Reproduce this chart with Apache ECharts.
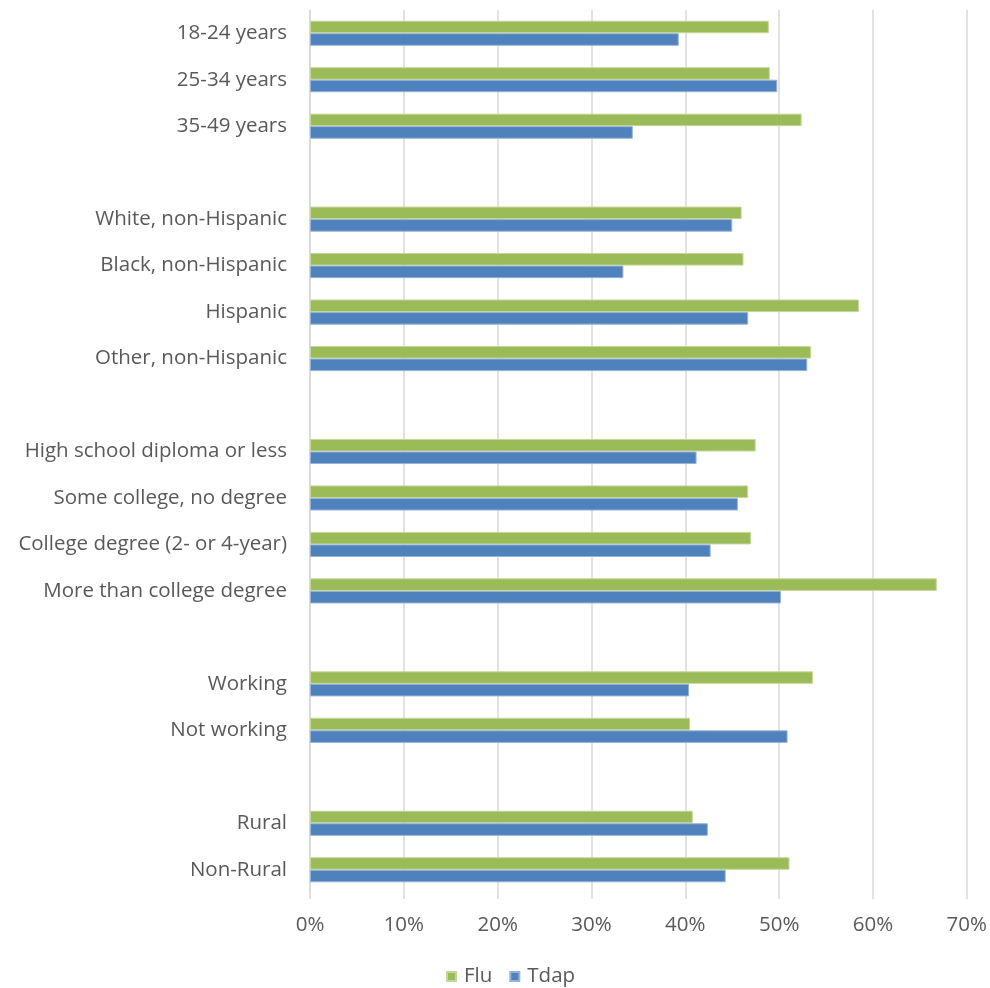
<!DOCTYPE html>
<html>
<head>
<meta charset="utf-8">
<script src="https://cdn.jsdelivr.net/npm/echarts@6/dist/echarts.min.js"></script>
<style>
  html, body { margin: 0; padding: 0; background: #ffffff; }
  #chart { width: 990px; height: 988px; }
</style>
</head>
<body>
<div id="chart"></div>
<script>
// Groups are separated by blank rows (distinct whitespace names keep them unique).
const categories = [
  '18-24 years', '25-34 years', '35-49 years', ' ',
  'White, non-Hispanic', 'Black, non-Hispanic', 'Hispanic', 'Other, non-Hispanic', '  ',
  'High school diploma or less', 'Some college, no degree', 'College degree (2- or 4-year)', 'More than college degree', '   ',
  'Working', 'Not working', '    ',
  'Rural', 'Non-Rural'
];

// Vaccination coverage, percent
const fluValues = [
  48.9, 49.0, 52.4, null,
  46.0, 46.2, 58.5, 53.4, null,
  47.5, 46.7, 47.0, 66.8, null,
  53.6, 40.5, null,
  40.8, 51.1
];
const tdapValues = [
  39.3, 49.8, 34.4, null,
  45.0, 33.4, 46.7, 53.0, null,
  41.2, 45.6, 42.7, 50.2, null,
  40.4, 50.9, null,
  42.4, 44.3
];

const axisTicks = [0, 10, 20, 30, 40, 50, 60, 70];

const textColor = '#595959';
const gridColor = '#d9d9d9';
const fontFamily = '"Open Sans", Lato, sans-serif';
const fontSize = 20.5;

const chart = echarts.init(document.getElementById('chart'), null, { renderer: 'canvas' });

chart.setOption({
  animation: false,
  backgroundColor: '#ffffff',
  grid: { left: 310, right: 21, top: 10, bottom: 95, containLabel: false },
  legend: {
    top: 966,
    left: 446,
    padding: 0,
    icon: 'rect',
    itemWidth: 9,
    itemHeight: 9,
    itemGap: 17,
    textStyle: { color: textColor, fontSize: fontSize, fontFamily: fontFamily, padding: [0, 0, 0, 3] },
    data: ['Flu', 'Tdap']
  },
  xAxis: {
    type: 'value',
    min: axisTicks[0],
    max: axisTicks[axisTicks.length - 1],
    interval: axisTicks[1] - axisTicks[0],
    axisLine: { show: false },
    axisTick: { show: true, length: 6, lineStyle: { color: gridColor, width: 1.5 } },
    splitLine: { show: true, lineStyle: { color: gridColor, width: 1.5 } },
    axisLabel: {
      formatter: '{value}%',
      color: textColor,
      fontSize: fontSize,
      fontFamily: fontFamily,
      margin: 22
    }
  },
  yAxis: {
    type: 'category',
    inverse: true,
    data: categories,
    axisLine: { show: true, lineStyle: { color: gridColor, width: 1.5 } },
    axisTick: { show: false },
    axisLabel: {
      color: textColor,
      fontSize: fontSize,
      fontFamily: fontFamily,
      margin: 23
    }
  },
  series: [
    {
      name: 'Flu',
      type: 'bar',
      data: fluValues,
      barCategoryGap: '46%',
      barGap: '0%',
      itemStyle: { color: '#9bbb59', borderColor: '#c4d79b', borderWidth: 1 }
    },
    {
      name: 'Tdap',
      type: 'bar',
      data: tdapValues,
      barCategoryGap: '46%',
      barGap: '0%',
      itemStyle: { color: '#4f81bd', borderColor: '#95b3d7', borderWidth: 1 }
    }
  ]
});
</script>
</body>
</html>
